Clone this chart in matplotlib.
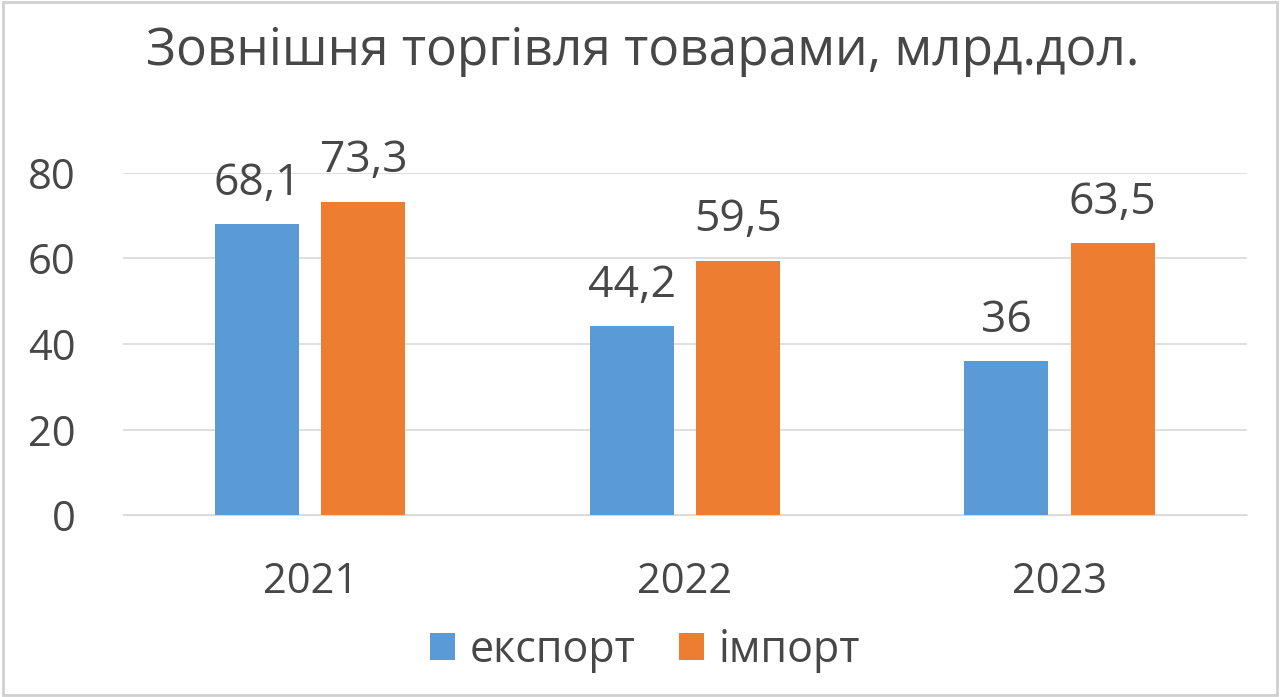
import matplotlib.pyplot as plt
import numpy as np

years = ['2021', '2022', '2023']
export_vals = [68.1, 44.2, 36]
import_vals = [73.3, 59.5, 63.5]
export_labels = ['68,1', '44,2', '36']
import_labels = ['73,3', '59,5', '63,5']

plt.rcParams['font.family'] = ['Open Sans', 'DejaVu Sans']
txt = '#474747'
blue = '#5B9BD5'
orange = '#ED7D31'

fig = plt.figure(figsize=(12.8, 6.97), dpi=100)
ax = fig.add_axes([0.096, 0.261, 0.878, 0.491])

x = np.arange(len(years))
w = 0.224
off = 0.142
b1 = ax.bar(x - off, export_vals, w, color=blue, label='експорт', zorder=3)
b2 = ax.bar(x + off, import_vals, w, color=orange, label='імпорт', zorder=3)

for bars, labs in ((b1, export_labels), (b2, import_labels)):
    for rect, lab in zip(bars, labs):
        ax.annotate(lab, (rect.get_x() + rect.get_width() / 2, rect.get_height()),
                    xytext=(0, 13), textcoords='offset points', ha='center', va='bottom',
                    fontsize=32, color=txt, annotation_clip=False)

ax.set_xlim(-0.5, 2.5)
ax.set_ylim(0, 80)
ax.set_yticks([0, 20, 40, 60, 80])
ax.set_xticks(x)
ax.set_xticklabels(years)
ax.grid(axis='y', color='#D9D9D9', linewidth=1.2, zorder=0)
for s in ['top', 'right', 'left']:
    ax.spines[s].set_visible(False)
ax.spines['bottom'].set_color('#D9D9D9')
ax.tick_params(axis='both', length=0, labelsize=30, labelcolor=txt)
ax.tick_params(axis='y', pad=34)
ax.tick_params(axis='x', pad=33)

fig.text(0.502, 1 - 65 / 697, 'Зовнішня торгівля товарами, млрд.дол.', ha='center', va='baseline',
         fontsize=37, color=txt)

fig.legend(loc='center', bbox_to_anchor=(0.504, 0.067), ncol=2, frameon=False,
           fontsize=31, labelcolor=txt, handlelength=0.58, handleheight=0.58,
           handletextpad=0.35, columnspacing=1.0)

fig.patches.append(plt.Rectangle((0.002, 0.003), 0.996, 0.994, transform=fig.transFigure,
                                 fill=False, edgecolor='#D0D0D0', linewidth=2))

fig.savefig('out.png', dpi=100)
